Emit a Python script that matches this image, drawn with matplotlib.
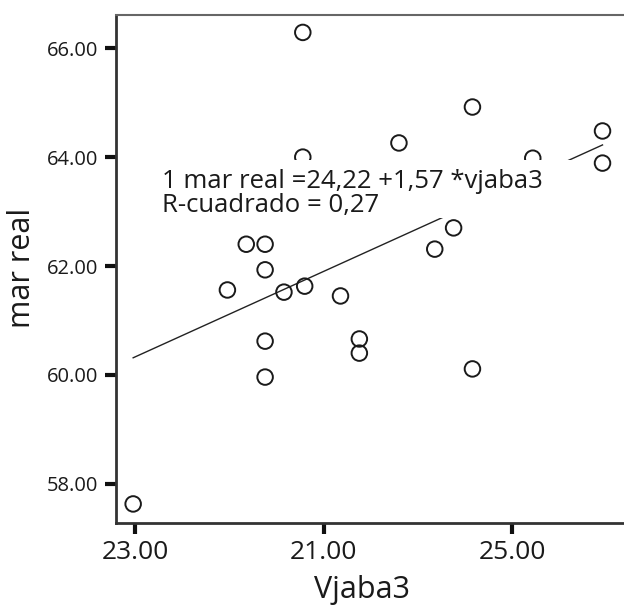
import matplotlib
matplotlib.use("Agg")
import matplotlib.pyplot as plt
from matplotlib.patches import Rectangle
import numpy as np

vjaba3 = [23.89, 23.89, 23.59, 23.69, 23.69, 23.49, 23.79, 23.90, 24.79, 24.40,
          25.11, 25.48, 25.48, 24.69, 24.59, 24.09, 23.69, 23.69, 22.99, 24.19,
          24.19, 24.79]
mar_real = [66.29, 64.00, 62.40, 62.40, 61.93, 61.56, 61.52, 61.63, 64.92, 64.26,
            63.98, 64.48, 63.89, 62.70, 62.31, 61.45, 60.62, 59.96, 57.63, 60.66,
            60.40, 60.11]
intercept = 24.22
slope = 1.57
x_ticks = [23, 24, 25]
x_tick_labels = ["23.00", "21.00", "25.00"]
y_ticks = [58, 60, 62, 64, 66]
y_tick_labels = ["58.00", "60.00", "62.00", "64.00", "66.00"]
eq_text = "1 mar real =24,22 +1,57 *vjaba3\nR-cuadrado = 0,27"

plt.rcParams['font.family'] = ['Open Sans', 'DejaVu Sans']

fig = plt.figure(figsize=(6.24, 6.14), dpi=100)
ax = fig.add_axes([116/624, 91/614, 1 - 116/624, 508/614])

ax.scatter(vjaba3, mar_real, s=125, facecolors='none', edgecolors='#1a1a1a',
           linewidths=1.4, zorder=3)
xl = np.array([min(vjaba3), max(vjaba3)])
ax.plot(xl, intercept + slope * xl, color='#222222', lw=1.0, zorder=2)

ax.add_patch(Rectangle((0.077, 0.600), 0.842, 0.115, transform=ax.transAxes,
                       facecolor='white', edgecolor='none', zorder=4))
ax.text(0.091, 0.648, eq_text, transform=ax.transAxes, fontsize=18.5,
        va='center', ha='left', color='#1a1a1a', linespacing=0.96, zorder=5)

ax.set_xlim(22.899, 25.594)
ax.set_ylim(57.28, 66.61)
ax.set_xticks(x_ticks)
ax.set_xticklabels(x_tick_labels, fontsize=19, color='#1a1a1a')
ax.set_yticks(y_ticks)
ax.set_yticklabels(y_tick_labels, fontsize=14.5, color='#1a1a1a')
ax.tick_params(axis='both', direction='out', length=8, width=3, color='#111111')
ax.tick_params(axis='y', pad=5)
ax.tick_params(axis='x', pad=4)

for s in ['left', 'bottom']:
    ax.spines[s].set_color('#333333')
    ax.spines[s].set_linewidth(2)
ax.spines['top'].set_color('#666666')
ax.spines['top'].set_linewidth(1.5)
ax.spines['right'].set_visible(False)

fig.text(362/624, (614-590)/614, "Vjaba3", fontsize=22, ha='center', va='center',
         color='#1a1a1a')
fig.text(22/624, (614-268)/614, "mar real", fontsize=22, ha='center', va='center',
         rotation=90, color='#1a1a1a')

fig.savefig("out.png", dpi=100)
